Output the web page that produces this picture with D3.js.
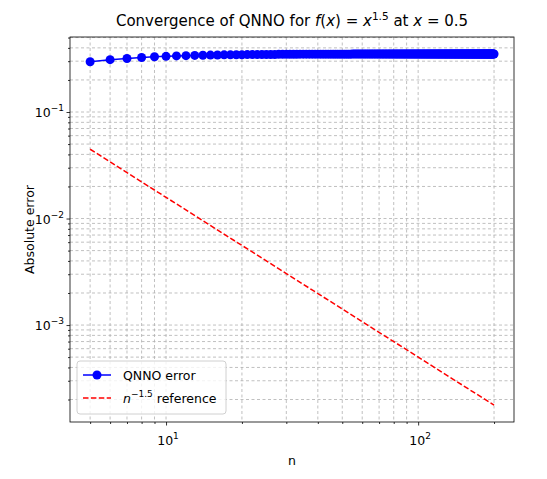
<!DOCTYPE html>
<html>
<head>
<meta charset="utf-8">
<script src="https://cdn.jsdelivr.net/npm/d3@7"></script>
<style>
  body { margin: 0; background: #fff; }
  text { font-family: "DejaVu Sans", sans-serif; }
</style>
</head>
<body>
<div id="chart"></div>
<script>
// sample sizes n = 5 .. 200
const ns = d3.range(5, 201);

// QNNO absolute error
const qnnoErr = [
  0.296, 0.310, 0.318, 0.325, 0.330, 0.333, 0.336, 0.338, 0.340, 0.341,
  0.342, 0.343, 0.344, 0.344, 0.345, 0.345, 0.346, 0.346, 0.346, 0.347,
  0.347, 0.347, 0.347, 0.348, 0.348, 0.348, 0.348, 0.348, 0.348, 0.349,
  0.349, 0.349, 0.349, 0.349, 0.349, 0.349, 0.349, 0.349, 0.349, 0.349,
  0.349, 0.349, 0.349, 0.349, 0.349, 0.349, 0.349, 0.349, 0.349, 0.349,
  0.350, 0.350, 0.350, 0.350, 0.350, 0.350, 0.350, 0.350, 0.350, 0.350,
  0.350, 0.350, 0.350, 0.350, 0.350, 0.350, 0.350, 0.350, 0.350, 0.350,
  0.350, 0.350, 0.350, 0.350, 0.350, 0.350, 0.350, 0.350, 0.350, 0.350,
  0.350, 0.350, 0.350, 0.350, 0.350, 0.350, 0.350, 0.350, 0.350, 0.350,
  0.350, 0.350, 0.350, 0.350, 0.350, 0.350, 0.350, 0.350, 0.350, 0.350,
  0.350, 0.350, 0.350, 0.350, 0.350, 0.350, 0.350, 0.350, 0.350, 0.350,
  0.350, 0.350, 0.350, 0.350, 0.350, 0.350, 0.350, 0.350, 0.350, 0.350,
  0.350, 0.350, 0.350, 0.350, 0.350, 0.350, 0.350, 0.350, 0.350, 0.350,
  0.350, 0.350, 0.350, 0.350, 0.350, 0.350, 0.350, 0.350, 0.350, 0.350,
  0.350, 0.350, 0.350, 0.350, 0.350, 0.350, 0.350, 0.350, 0.350, 0.350,
  0.350, 0.350, 0.350, 0.350, 0.350, 0.350, 0.350, 0.350, 0.350, 0.350,
  0.350, 0.350, 0.350, 0.350, 0.350, 0.350, 0.350, 0.350, 0.350, 0.350,
  0.350, 0.350, 0.350, 0.350, 0.350, 0.350, 0.350, 0.350, 0.350, 0.350,
  0.350, 0.350, 0.350, 0.350, 0.350, 0.350, 0.350, 0.350, 0.350, 0.350,
  0.350, 0.350, 0.350, 0.350, 0.350, 0.350
];

// reference line 0.5 * n^-1.5, endpoints
const refN = [5, 200];
const refErr = [0.0447, 0.000177];

const xTicks = [10, 100];
const yTicks = [1e-3, 1e-2, 1e-1];

const width = 547, height = 479;
const margin = { left: 70, right: 33, top: 37, bottom: 57 };

const svg = d3.select("#chart").append("svg")
    .attr("width", width).attr("height", height);

const x = d3.scaleLog().domain([4.16, 240]).range([margin.left, width - margin.right]);
const y = d3.scaleLog().domain([1.23e-4, 0.506]).range([height - margin.bottom, margin.top]);

// minor tick positions
const minorX = [];
[1, 10, 100].forEach(d => d3.range(2, 10).forEach(k => {
    const v = d * k;
    if (v > 4.16 && v < 240) minorX.push(v);
}));
const minorY = [];
[1e-4, 1e-3, 1e-2, 1e-1].forEach(d => d3.range(2, 10).forEach(k => {
    const v = d * k;
    if (v > 1.23e-4 && v < 0.506) minorY.push(v);
}));

// grid (major + minor)
const grid = svg.append("g")
    .attr("stroke", "#b0b0b0").attr("stroke-width", 0.8).attr("stroke-dasharray", "3,2.5");
grid.selectAll(".gx").data(xTicks.concat(minorX)).join("line")
    .attr("x1", d => x(d)).attr("x2", d => x(d))
    .attr("y1", margin.top).attr("y2", height - margin.bottom);
grid.selectAll(".gy").data(yTicks.concat(minorY)).join("line")
    .attr("y1", d => y(d)).attr("y2", d => y(d))
    .attr("x1", margin.left).attr("x2", width - margin.right);

// reference line
svg.append("path")
    .datum(refN.map((n, i) => [n, refErr[i]]))
    .attr("fill", "none").attr("stroke", "#ff0000").attr("stroke-width", 1.5)
    .attr("stroke-dasharray", "5.5,2.4")
    .attr("d", d3.line().x(d => x(d[0])).y(d => y(d[1])));

// QNNO error
const qData = ns.map((n, i) => [n, qnnoErr[i]]);
svg.append("path")
    .datum(qData)
    .attr("fill", "none").attr("stroke", "#0000ff").attr("stroke-width", 1.5)
    .attr("d", d3.line().x(d => x(d[0])).y(d => y(d[1])));
svg.append("g").selectAll("circle").data(qData).join("circle")
    .attr("cx", d => x(d[0])).attr("cy", d => y(d[1])).attr("r", 4.5)
    .attr("fill", "#0000ff");

// axes
const xAxis = svg.append("g").attr("transform", `translate(0,${height - margin.bottom})`);
xAxis.call(d3.axisBottom(x).tickValues(xTicks).tickFormat("").tickSize(3.5));
xAxis.append("g").call(d3.axisBottom(x).tickValues(minorX).tickFormat("").tickSize(2));
const yAxis = svg.append("g").attr("transform", `translate(${margin.left},0)`);
yAxis.call(d3.axisLeft(y).tickValues(yTicks).tickFormat("").tickSize(3.5));
yAxis.append("g").call(d3.axisLeft(y).tickValues(minorY).tickFormat("").tickSize(2));
svg.selectAll(".domain").remove();
svg.selectAll(".tick line").attr("stroke", "#000").attr("stroke-width", 0.8);

svg.append("rect")
    .attr("x", margin.left).attr("y", margin.top)
    .attr("width", width - margin.left - margin.right)
    .attr("height", height - margin.top - margin.bottom)
    .attr("fill", "none").attr("stroke", "#000").attr("stroke-width", 0.8);

// tick labels 10^k
function powLabel(g, exp, px, py, anchor) {
    const t = g.append("text").attr("x", px).attr("y", py).attr("text-anchor", anchor)
        .attr("font-size", 12.5).attr("fill", "#000");
    t.append("tspan").text("10");
    t.append("tspan").attr("dy", -6).attr("font-size", 9).text(exp);
}
xTicks.forEach(d => powLabel(svg, Math.round(Math.log10(d)), x(d) + 2, height - margin.bottom + 23, "middle"));
yTicks.forEach(d => powLabel(svg, "\u2212" + Math.round(-Math.log10(d)), margin.left - 6, y(d) + 5, "end"));

// axis titles
svg.append("text").attr("x", (margin.left + width - margin.right) / 2).attr("y", height - 14)
    .attr("text-anchor", "middle").attr("font-size", 12.5).text("n");
svg.append("text").attr("transform", `translate(34,${(margin.top + height - margin.bottom) / 2}) rotate(-90)`)
    .attr("text-anchor", "middle").attr("font-size", 12.5).text("Absolute error");

// title
const title = svg.append("text").attr("x", (margin.left + width - margin.right) / 2).attr("y", 26)
    .attr("text-anchor", "middle").attr("font-size", 15);
title.append("tspan").text("Convergence of QNNO for ");
title.append("tspan").attr("font-style", "italic").text("f");
title.append("tspan").text("(");
title.append("tspan").attr("font-style", "italic").text("x");
title.append("tspan").text(") = ");
title.append("tspan").attr("font-style", "italic").text("x");
title.append("tspan").attr("dy", -6).attr("font-size", 10.5).text("1.5");
title.append("tspan").attr("dy", 6).text(" at ");
title.append("tspan").attr("font-style", "italic").text("x");
title.append("tspan").text(" = 0.5");

// legend
const lg = svg.append("g").attr("transform", "translate(77,361)");
lg.append("rect").attr("width", 149).attr("height", 53).attr("rx", 3)
    .attr("fill", "#fff").attr("fill-opacity", 0.8).attr("stroke", "#d0d0d0");
lg.append("line").attr("x1", 6).attr("x2", 34).attr("y1", 14).attr("y2", 14)
    .attr("stroke", "#0000ff").attr("stroke-width", 1.5);
lg.append("circle").attr("cx", 20).attr("cy", 14).attr("r", 4.5).attr("fill", "#0000ff");
lg.append("text").attr("x", 46).attr("y", 19).attr("font-size", 12.5).text("QNNO error");
lg.append("line").attr("x1", 6).attr("x2", 34).attr("y1", 37).attr("y2", 37)
    .attr("stroke", "#ff0000").attr("stroke-width", 1.5).attr("stroke-dasharray", "5.5,2.4");
const lt = lg.append("text").attr("x", 46).attr("y", 42).attr("font-size", 12.5);
lt.append("tspan").attr("font-style", "italic").text("n");
lt.append("tspan").attr("dy", -6).attr("font-size", 9).text("\u22121.5");
lt.append("tspan").attr("dy", 6).text(" reference");
</script>
</body>
</html>
